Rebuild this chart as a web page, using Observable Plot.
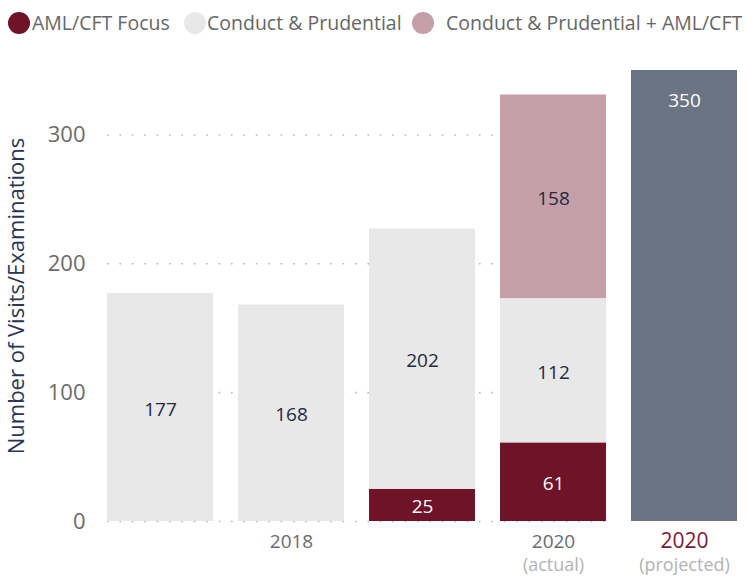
<!DOCTYPE html>
<html>
<head>
<meta charset="utf-8">
<script src="https://cdn.jsdelivr.net/npm/d3@7"></script>
<script src="https://cdn.jsdelivr.net/npm/@observablehq/plot@0.6"></script>
<style>
  body { margin: 0; background: #fff; font-family: "Open Sans", sans-serif; }
  #legend { position: relative; height: 45px; width: 747px; overflow: hidden; }
  #legend .sw { position: absolute; top: 12px; width: 22px; height: 22px; border-radius: 50%; }
  #legend .lb { position: absolute; top: 8px; font-size: 19.5px; line-height: 30px; color: #666; white-space: nowrap; }
  #chart svg g[aria-label="y-axis tick label"] { fill: #6b6b6b; }
  #chart svg g[aria-label="y-axis label"] { fill: #2b3553; }
</style>
</head>
<body>
<div id="legend"></div>
<div id="chart"></div>
<script>
// ---- data ----
const categories = ["bar1", "bar2", "bar3", "bar4", "bar5"];
const yearLabels = ["", "2018", "", "2020", "2020"];
const subLabels = ["", "", "", "(actual)", "(projected)"];
const seriesNames = ["AML/CFT Focus", "Conduct & Prudential", "Conduct & Prudential + AML/CFT", "Projected"];
const amlFocus = [0, 0, 25, 61, 0];
const conductPrudential = [177, 168, 202, 112, 0];
const conductPlusAml = [0, 0, 0, 158, 0];
const projected = [0, 0, 0, 0, 350];
const yTicks = [0, 100, 200, 300];

// ---- styles ----
const seriesColors = ["#6f1329", "#e8e8e8", "#c59fa8", "#6b7485"];
const labelColors = ["#ffffff", "#1f2a44", "#1f2a44", "#ffffff"];

// legend (first three series)
const legendPos = [{c: 8, t: 32}, {c: 184, t: 207}, {c: 412, t: 446}];
const legend = document.getElementById("legend");
legendPos.forEach((p, i) => {
  const sw = document.createElement("span");
  sw.className = "sw";
  sw.style.left = p.c + "px";
  sw.style.background = seriesColors[i];
  legend.appendChild(sw);
  const lb = document.createElement("span");
  lb.className = "lb";
  lb.style.left = p.t + "px";
  lb.textContent = seriesNames[i];
  legend.appendChild(lb);
});

// long table
const seriesValues = [amlFocus, conductPrudential, conductPlusAml, projected];
const rows = [];
categories.forEach((cat, i) => {
  seriesValues.forEach((vals, s) => {
    if (vals[i] > 0) rows.push({cat, series: seriesNames[s], s, value: vals[i]});
  });
});
const midRows = rows.filter(d => d.s !== 3);
const topRows = rows.filter(d => d.s === 3);
const labelRows = categories.map((cat, i) => ({cat, year: yearLabels[i], sub: subLabels[i], proj: i === 4}));

const chart = Plot.plot({
  width: 747,
  height: 533,
  marginLeft: 106,
  marginRight: 9,
  marginTop: 25,
  marginBottom: 57,
  style: {fontFamily: "Open Sans, sans-serif", background: "#fff"},
  x: {domain: categories, paddingInner: 0.19, paddingOuter: 0, axis: null},
  y: {domain: [0, 350]},
  color: {type: "identity"},
  marks: [
    Plot.ruleY(yTicks, {
      x1: () => categories[0], x2: () => categories[3],
      stroke: "#b8b8b8", strokeWidth: 1.6, strokeDasharray: "1.6,10.8"
    }),
    Plot.barY(rows, Plot.stackY({x: "cat", y: "value", fill: d => seriesColors[d.s]})),
    Plot.text(midRows, Plot.stackY({
      x: "cat", y: "value", text: d => String(d.value),
      fill: d => labelColors[d.s], fontSize: 19, dy: 2
    })),
    Plot.text(topRows, Plot.stackY2({
      x: "cat", y: "value", text: d => String(d.value),
      fill: d => labelColors[d.s], fontSize: 19, dy: 30
    })),
    Plot.text(labelRows, {
      x: "cat", text: "year", frameAnchor: "bottom", dy: 26,
      fill: d => d.proj ? "#7a1a33" : "#6b6b6b", fontSize: d => d.proj ? 21 : 19
    }),
    Plot.text(labelRows, {
      x: "cat", text: "sub", frameAnchor: "bottom", dy: 49,
      fill: "#b3b3b3", fontSize: 18
    }),
    Plot.axisY({
      ticks: yTicks, tickSize: 0, tickPadding: 21, fontSize: 22,
      label: "Number of Visits/Examinations", labelAnchor: "center", labelOffset: 98, labelArrow: "none"
    })
  ]
});
document.getElementById("chart").appendChild(chart);
</script>
</body>
</html>
